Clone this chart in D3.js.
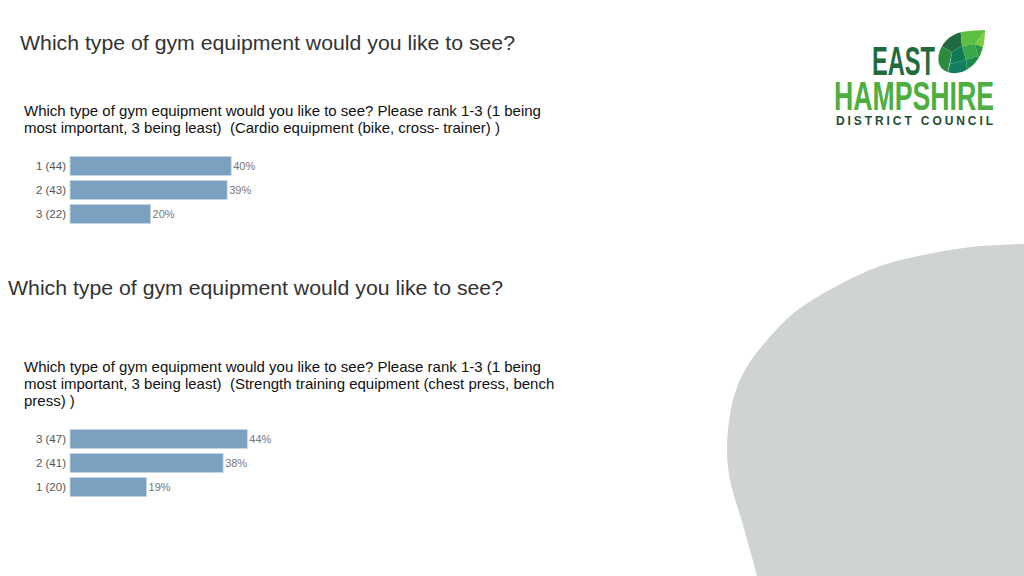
<!DOCTYPE html>
<html><head><meta charset="utf-8">
<script src="https://cdn.jsdelivr.net/npm/d3@7"></script>
<style>html,body{margin:0;padding:0;background:#fff;}svg{display:block;font-family:"Liberation Sans",Arial,sans-serif;}</style>
</head><body>
<script>
const pageTitle = "Which type of gym equipment would you like to see?";
const chart1Title = ["Which type of gym equipment would you like to see? Please rank 1-3 (1 being",
                     "most important, 3 being least)  (Cardio equipment (bike, cross- trainer) )"];
const chart1Cats = ["1 (44)", "2 (43)", "3 (22)"];
const chart1Vals = [40, 39, 20];
const chart2Title = ["Which type of gym equipment would you like to see? Please rank 1-3 (1 being",
                     "most important, 3 being least)  (Strength training equipment (chest press, bench",
                     "press) )"];
const chart2Cats = ["3 (47)", "2 (41)", "1 (20)"];
const chart2Vals = [44, 38, 19];

const W = 1024, H = 576;
const svg = d3.select("body").append("svg").attr("width", W).attr("height", H);

// background leaf blob
const blobPts = [[1024,244],[980,246],[933,253],[880,266],[833,288],[795,312],[767,340],[745,370],[733,400],[727,447],[730,480],[740,515],[750,550],[757,576]];
svg.append("path")
  .attr("d", d3.line().curve(d3.curveCatmullRom)(blobPts) + "L1024,576Z")
  .attr("fill", "#cfd4d1");

// page titles
svg.append("text").attr("x", 20).attr("y", 50).attr("font-size", 20).attr("fill", "#333")
  .attr("textLength", 495).attr("lengthAdjust", "spacingAndGlyphs").text(pageTitle);
svg.append("text").attr("x", 8).attr("y", 295).attr("font-size", 20).attr("fill", "#333")
  .attr("textLength", 495).attr("lengthAdjust", "spacingAndGlyphs").text(pageTitle);

const x = d3.scaleLinear().domain([0, 100]).range([0, 403]);

function drawChart(titleLines, titleY, cats, vals, barTop) {
  const g = svg.append("g");
  g.selectAll("text.t").data(titleLines).join("text")
    .attr("x", 24).attr("y", (d, i) => titleY + i * 17)
    .attr("font-size", 15).attr("fill", "#111").style("white-space", "pre").text(d => d);
  const y = d3.scaleBand().domain(cats).range([barTop, barTop + 72]).paddingInner(0.2).paddingOuter(0.1);
  const x0 = 70;
  g.selectAll("rect").data(vals).join("rect")
    .attr("x", x0).attr("y", (d, i) => y(cats[i]))
    .attr("width", d => x(d)).attr("height", y.bandwidth())
    .attr("fill", "#7ba0c0").attr("stroke", "#c9d8e6").attr("stroke-width", 0.8);
  g.selectAll("text.c").data(cats).join("text")
    .attr("x", 66).attr("y", d => y(d) + y.bandwidth() / 2 + 4)
    .attr("text-anchor", "end").attr("font-size", 11.5).attr("fill", "#555").text(d => d);
  g.selectAll("text.p").data(vals).join("text")
    .attr("x", d => x0 + x(d) + 2).attr("y", (d, i) => y(cats[i]) + y.bandwidth() / 2 + 4)
    .attr("font-size", 11).attr("fill", "#777").text(d => d + "%");
}
drawChart(chart1Title, 116, chart1Cats, chart1Vals, 154);
drawChart(chart2Title, 372, chart2Cats, chart2Vals, 427);

// logo
const logo = svg.append("g");
logo.append("text").attr("x", 872).attr("y", 75).attr("font-size", 40).attr("font-weight", "bold")
  .attr("fill", "#1f6b3f").attr("textLength", 63).attr("lengthAdjust", "spacingAndGlyphs").text("EAST");
logo.append("text").attr("x", 834).attr("y", 110).attr("font-size", 40).attr("font-weight", "bold")
  .attr("fill", "#4caf3f").attr("textLength", 160).attr("lengthAdjust", "spacingAndGlyphs").text("HAMPSHIRE");
logo.append("text").attr("x", 836).attr("y", 125).attr("font-size", 12).attr("font-weight", "bold")
  .attr("fill", "#1f4d33").attr("textLength", 157).attr("lengthAdjust", "spacing").text("DISTRICT COUNCIL");
// leaf
const defs = svg.append("defs");
defs.append("clipPath").attr("id", "leafclip").append("path")
  .attr("d", "M985,30 C985,50 978,66 962,72 C952,75 942,72 939,64 C936,52 944,38 958,33 C968,30 976,31 985,30 Z");
const leaf = [
  {p:[[930,80],[930,40],[952,52],[946,80]], c:"#2e8b3e"},
  {p:[[930,40],[960,25],[962,46],[952,52]], c:"#1f6b3f"},
  {p:[[960,25],[990,25],[975,44],[962,46]], c:"#5cbf3f"},
  {p:[[990,25],[990,50],[975,44]], c:"#7ccc3f"},
  {p:[[952,52],[962,46],[966,60],[950,64]], c:"#0f7a55"},
  {p:[[962,46],[975,44],[978,56],[966,60]], c:"#3aa84a"},
  {p:[[975,44],[990,50],[990,80],[978,56]], c:"#2a9a3f"},
  {p:[[946,80],[950,64],[966,60],[968,80]], c:"#137f5f"},
  {p:[[968,80],[966,60],[978,56],[990,80]], c:"#1a8a4a"}
];
logo.append("g").attr("clip-path", "url(#leafclip)").selectAll("polygon").data(leaf).join("polygon")
  .attr("points", d => d.p.map(q => q.join(",")).join(" ")).attr("fill", d => d.c);
</script>
</body></html>
